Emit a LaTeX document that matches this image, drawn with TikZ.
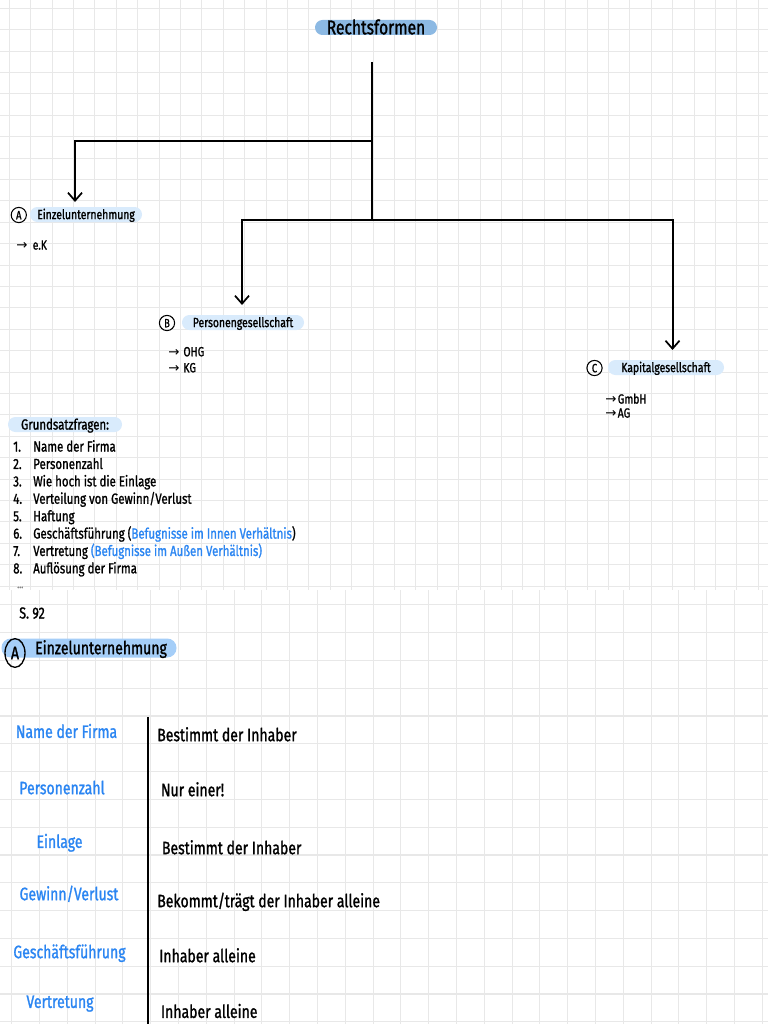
\documentclass[tikz,border=0pt]{standalone}
\usepackage{fontspec}
\setmainfont{Fira Sans}[FakeStretch=0.78, FakeBold=1.2]
\newfontfamily\arrowfont{DejaVu Sans}
\usetikzlibrary{arrows.meta,shapes.geometric}
\definecolor{markstrong}{HTML}{8CB9E3}
\definecolor{marklight}{HTML}{D9EBFC}
\definecolor{markmid}{HTML}{A5CEF8}
\definecolor{inkblue}{HTML}{2A85F2}
\definecolor{gridgray}{HTML}{E8E8E8}
\def\fs#1{\fontsize{#1pt}{#1pt}\selectfont}
\tikzset{
	gridl/.style={gridgray, line width=0.8pt},
	treeline/.style={line width=1.5pt, black},
	treearrow/.style={treeline, -{Straight Barb[length=6pt,width=10.5pt,line width=1.3pt]}},
	hlight/.style={fill=#1, rounded corners=5.6pt, inner sep=0pt, minimum height=11.25pt, text depth=0pt},
	letter/.style={draw, circle, line width=0.8pt, inner sep=0pt, minimum size=11.4pt, text height=6.4pt, text depth=0pt, font=\fs{9}},
	sublist/.style={inner sep=0pt, anchor=west, text height=6.9pt, text depth=0pt, font=\fs{10}},
	listtxt/.style={inner sep=0pt, anchor=west, text height=7.6pt, text depth=0pt, font=\fs{11}},
	tabtxt/.style={inner sep=0pt, text height=9.3pt, text depth=0pt, font=\fs{13.5}}
}

\begin{document}
\begin{tikzpicture}[x=0.75pt,y=-0.75pt]
		%%%%% PAPER %%%%%
		\useasboundingbox (0,0) rectangle (768,1024);
		\fill[white] (0,0) rectangle (768,1024);
		\foreach \k in {0,...,35} \draw[gridl] ({9.3+21.4*\k},0) -- ({9.3+21.4*\k},590);
		\foreach \k in {0,...,27} \draw[gridl] (0,{8.3+21.4*\k}) -- (768,{8.3+21.4*\k});
		
		%%%%% TREE %%%%%
		\node[hlight=markstrong, minimum width=91.5pt, text height=10.3pt, font=\fs{15}] (rechtsformen) at (376,27.5) {Rechtsformen};
		
		\node[letter] (circA) at (18.8,215) {A};
		\node[hlight=marklight, minimum width=84pt, text height=6.9pt, font=\fs{10}] (einzel) at (86,214.5) {Einzelunternehmung};
		\node[letter] (circB) at (167,323) {B};
		\node[hlight=marklight, minimum width=91.5pt, text height=6.9pt, font=\fs{10}] (personen) at (243,322.5) {Personengesellschaft};
		\node[letter] (circC) at (594.5,368) {C};
		\node[hlight=marklight, minimum width=87pt, text height=6.9pt, font=\fs{10}] (kapital) at (666,367.5) {Kapitalgesellschaft};
		
		\coordinate (stem) at (372,62);
		\coordinate (fork1) at (372,141);
		\coordinate (fork2) at (372,220);
		\coordinate (einzeltip) at (75,202);
		\coordinate (personentip) at (242,305);
		\coordinate (kapitaltip) at (672.5,350);
		
		\draw[treeline] (stem) -- (fork2);
		\draw[treearrow] (fork1) -| (einzeltip);
		\draw[treearrow] (fork2) -| (personentip);
		\draw[treearrow] (fork2) -| (kapitaltip);
		
		\node[sublist] (ek) at (16,245) {{\arrowfont →}\hspace{4pt}e.K};
		\node[sublist] (ohg) at (168,351.7) {{\arrowfont →}\hspace{3pt}OHG};
		\node[sublist] (kg) at (168,367.7) {{\arrowfont →}\hspace{3pt}KG};
		\node[sublist] (gmbh) at (605,399) {{\arrowfont →}\hspace{1pt}GmbH};
		\node[sublist] (ag) at (605,413) {{\arrowfont →}\hspace{1pt}AG};
		
		%%%%% GRUNDSATZFRAGEN %%%%%
		\node[hlight=marklight, minimum width=85.5pt, text height=7.6pt, font=\fs{11}] (grundsatz) at (65,424.5) {Grundsatzfragen:};
		\foreach \n/\t in {1/{Name der Firma}, 2/Personenzahl, 3/{Wie hoch ist die Einlage}, 4/{Verteilung von Gewinn/Verlust}, 5/Haftung, 6/{Geschäftsführung (\textcolor{inkblue}{Befugnisse im Innen Verhältnis})}, 7/{Vertretung \textcolor{inkblue}{(Befugnisse im Außen Verhältnis)}}, 8/{Auflösung der Firma}}
		{
			\node[listtxt] (num\n) at (13,{429.1+17.4*\n}) {\n.};
			\node[listtxt] (item\n) at (33,{429.1+17.4*\n}) {\t};
		}
		\node[listtxt, gray, font=\fs{8}] (dots) at (17,583) {...};
		
		%%%%% NEXT PAGE %%%%%
		\fill[white] (0,590) rectangle (768,1024);
		\foreach \k in {0,...,27} \draw[gridl] ({11.7+27.8*\k},590) -- ({11.7+27.8*\k},1024);
		\foreach \k in {21,...,36} \draw[gridl] (0,{21+27.8*\k}) -- (768,{21+27.8*\k});
		
		\node[listtxt, text height=8.3pt, font=\fs{12}] (seite) at (19,613) {S. 92};
		\node[hlight=markmid, minimum width=131.25pt, minimum height=14.25pt, rounded corners=7pt, text height=9.3pt, font=\fs{13.5}] (einzelhead) at (89,648) {\hspace{18pt}Einzelunternehmung};
		\node[draw, ellipse, line width=1pt, inner sep=0pt, minimum width=15pt, minimum height=21.5pt, font=\fs{13.5}] (headA) at (15,653) {A};
		
		%%%%% TABELLE %%%%%
		\coordinate (tabtop) at (148,717);
		\coordinate (tabbottom) at (148,1024);
		\draw[line width=1.5pt] (tabtop) -- (tabbottom);
		
		\foreach \n/\q/\qx/\qy/\a/\ax/\ay in {1/{Name der Firma}/66.5/731.7/{Bestimmt der Inhaber}/157/735, 2/Personenzahl/62/788/{Nur einer!}/160.7/790, 3/Einlage/59.5/841.7/{Bestimmt der Inhaber}/161.7/848, 4/{Gewinn/Verlust}/69/894/{Bekommt/trägt der Inhaber alleine}/157/901, 5/Geschäftsführung/69.5/952/{Inhaber alleine}/159/956, 6/Vertretung/60/1001.7/{Inhaber alleine}/160.7/1011.7}
		{
			\node[tabtxt, inkblue] (frage\n) at (\qx,\qy) {\q};
			\node[tabtxt, anchor=west] (antwort\n) at (\ax,\ay) {\a};
		}
	\end{tikzpicture}
\end{document}
